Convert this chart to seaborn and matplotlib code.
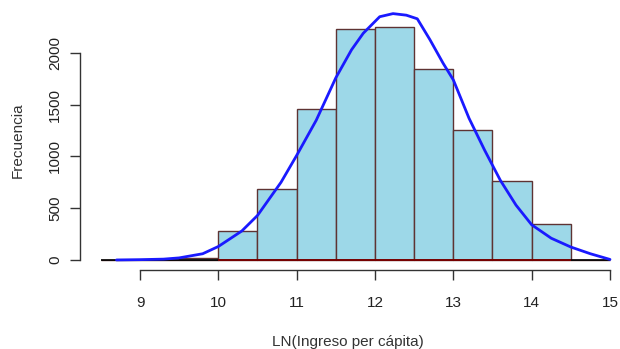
import matplotlib
matplotlib.use("Agg")
import matplotlib.pyplot as plt
import seaborn as sns
import numpy as np

# Histogram data (bins of width 0.5)
bin_edges = [8.5, 9.0, 9.5, 10.0, 10.5, 11.0, 11.5, 12.0, 12.5, 13.0, 13.5, 14.0, 14.5, 15.0]
counts = [3, 4, 15, 280, 686, 1460, 2232, 2251, 1845, 1258, 765, 348, 2]

# Density curve scaled to frequency
curve_x = [8.7, 9.0, 9.3, 9.5, 9.8, 10.0, 10.3, 10.5, 10.8, 11.0, 11.25, 11.5, 11.7, 11.85, 12.06,
           12.23, 12.4, 12.54, 12.7, 12.87, 13.0, 13.2, 13.4, 13.6, 13.8, 14.0, 14.25, 14.5, 14.75, 15.0]
curve_y = [0, 3, 8, 20, 60, 130, 280, 430, 750, 1010, 1350, 1760, 2030, 2190, 2350,
           2380, 2365, 2330, 2130, 1900, 1740, 1370, 1060, 770, 530, 340, 210, 125, 60, 5]

x_ticks = [9, 10, 11, 12, 13, 14, 15]
y_ticks = [0, 500, 1000, 1500, 2000]

sns.set_style("white")
plt.rcParams['font.family'] = ['Liberation Sans', 'DejaVu Sans']

fig = plt.figure(figsize=(6.2, 3.49), dpi=100)
ax = fig.add_axes([80/620, 1-270/349, 535/620, 260/349])

centers = [(a + b) / 2 for a, b in zip(bin_edges[:-1], bin_edges[1:])]
sns.histplot(x=centers, weights=counts, bins=bin_edges, ax=ax,
             color="#9dd8e8", alpha=1.0, edgecolor="#5e3333", linewidth=1.0)

ax.hlines(0, 8.5, 15, color="black", linewidth=1.2, zorder=3)
ax.hlines(0, 10, 14.5, color="#8b0000", linewidth=1.2, zorder=3)

sns.lineplot(x=curve_x, y=curve_y, ax=ax, color="#1a1aff", linewidth=2, zorder=4)

ax.set_xlim(8.234, 15.064)
ax.set_ylim(-97, 2415)

for s in ["top", "right"]:
    ax.spines[s].set_visible(False)
ax.spines["left"].set_bounds(0, 2000)
ax.spines["bottom"].set_bounds(9, 15)
ax.spines["left"].set_color("#333333")
ax.spines["bottom"].set_color("#333333")
ax.spines["left"].set_linewidth(1)
ax.spines["bottom"].set_linewidth(1)

ax.set_xticks(x_ticks)
ax.set_xticklabels([str(t) for t in x_ticks], fontsize=11, color="#222222")
ax.set_yticks(y_ticks)
ax.set_yticklabels([str(t) for t in y_ticks], fontsize=11, color="#222222",
                   rotation=90, va="center")
ax.tick_params(axis="both", direction="out", length=7, width=1, color="#333333",
               bottom=True, left=True)
ax.tick_params(axis="x", pad=12)
ax.tick_params(axis="y", pad=6)

ax.set_xlabel("LN(Ingreso per cápita)", fontsize=11, color="#333333", labelpad=18)
ax.set_ylabel("Frecuencia", fontsize=11, color="#333333", labelpad=17)

fig.savefig("out.png", dpi=100)
